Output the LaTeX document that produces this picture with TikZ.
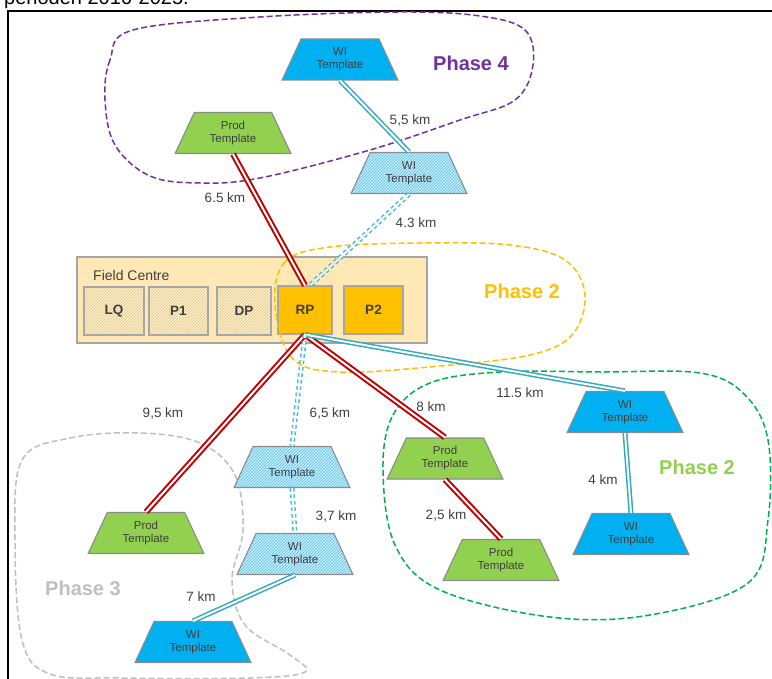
\documentclass[tikz,border=0pt]{standalone}
\usepackage{fontspec}
\setmainfont{Liberation Sans}
\usetikzlibrary{shapes.geometric,patterns}
\definecolor{txtgray}{HTML}{404040}
\definecolor{tplborder}{HTML}{8C8C8C}
\definecolor{prodgreen}{HTML}{92D050}
\definecolor{wiblue}{HTML}{00B0F0}
\definecolor{wihfill}{HTML}{C8EAF8}
\definecolor{wihline}{HTML}{4FC3EE}
\definecolor{fcfill}{HTML}{FDE8B6}
\definecolor{fcborder}{HTML}{A6A6A6}
\definecolor{bxfill}{HTML}{FDF0D0}
\definecolor{bxline}{HTML}{E2C27A}
\definecolor{rpfill}{HTML}{FFC000}
\definecolor{pipered}{HTML}{C00000}
\definecolor{pipecyan}{HTML}{31A9BE}
\definecolor{dotcyan}{HTML}{4BB8D6}
\definecolor{ph4}{HTML}{7030A0}
\definecolor{ph2y}{HTML}{FFC000}
\definecolor{ph2g}{HTML}{00B050}
\definecolor{ph2gt}{HTML}{92D050}
\definecolor{ph3}{HTML}{BFBFBF}
\tikzset{
  tpl/.style={trapezium, trapezium stretches=true, trapezium left angle=64,
    trapezium right angle=64, minimum width=116pt, minimum height=41pt,
    inner sep=0pt, draw=tplborder, line width=1.1pt, align=center,
    font=\fontsize{11.5}{13}\selectfont, text=txtgray},
  prod/.style={tpl, fill=prodgreen},
  wi/.style={tpl, fill=wiblue},
  wih/.style={tpl, preaction={fill=wihfill}, pattern=north east lines, pattern color=wihline},
  fcbox/.style={draw=fcborder, line width=1.2pt, inner sep=0pt, minimum height=48pt,
    font=\bfseries\fontsize{13.5}{16}\selectfont, text=txtgray},
  hbox/.style={fcbox, preaction={fill=bxfill}, pattern=north east lines, pattern color=bxline},
  obox/.style={fcbox, fill=rpfill},
  redpipe/.style={draw=pipered, line width=2pt, double=white, double distance=2pt},
  cyanpipe/.style={draw=pipecyan, line width=1.5pt, double=white, double distance=2pt},
  dotpipe/.style={draw=dotcyan, line width=1.5pt, double=white, double distance=2pt, dash pattern=on 3.5pt off 3pt},
  lbl/.style={font=\fontsize{13.5}{16}\selectfont, text=txtgray, inner sep=0pt},
  phase/.style={font=\bfseries\fontsize{20}{24}\selectfont, inner sep=0pt},
  bnd/.style={line width=1.5pt, dash pattern=on 6pt off 3pt}
}
\begin{document}
\begin{tikzpicture}[x=1pt,y=-1pt]
\clip (0,0) rectangle (772,679);
\fill[white] (0,0) rectangle (772,679);
% cut-off caption and frame
\node[anchor=base west, inner sep=0pt, font=\fontsize{20}{24}\selectfont] (cap) at (4,5) {perioden 2016-2025.};
\draw[line width=2pt] (8,700) -- (8,11) -- (790,11);
% field centre
\node[draw=fcborder, fill=fcfill, line width=1.4pt, minimum width=350pt, minimum height=86pt, inner sep=0pt] (fc) at (252,300) {};
\node[anchor=west, font=\fontsize{14}{16}\selectfont, text=txtgray, inner sep=0pt] (fclbl) at (93,275) {Field Centre};
\node[hbox, minimum width=60pt] (LQ) at (114,311) {LQ};
\node[hbox, minimum width=59pt] (P1) at (178.5,311) {P1};
\node[hbox, minimum width=54pt] (DP) at (244,311) {DP};
\node[obox, minimum width=54pt] (RP) at (305,310) {RP};
\node[obox, minimum width=59pt] (P2) at (373.5,310) {P2};
% phase boundaries
\draw[bnd, draw=ph4] plot[smooth cycle, tension=0.6] coordinates {(133,30) (110,60) (105,100) (115,145) (150,176) (200,183) (260,178) (370,150) (460,120) (515,100) (533,65) (525,30) (480,16) (400,12) (260,17)};
\draw[bnd, draw=ph2y] plot[smooth cycle, tension=0.6] coordinates {(275,305) (285,262) (330,247) (420,243) (510,245) (565,260) (585,295) (572,335) (530,355) (440,366) (340,372) (292,358)};
\draw[bnd, draw=ph2g] plot[smooth cycle, tension=0.6] coordinates {(383,470) (393,415) (430,383) (500,372) (600,372) (700,373) (745,395) (768,440) (768,520) (748,583) (650,615) (550,617) (440,590) (395,545)};
\draw[bnd, draw=ph3] plot[smooth cycle, tension=0.6] coordinates {(15,540) (22,460) (70,438) (140,433) (200,443) (235,475) (243,530) (232,580) (245,625) (290,655) (305,672) (250,678) (120,678) (50,674) (22,640)};
% phase labels
\node[phase, text=ph4] (p4) at (471,63) {Phase 4};
\node[phase, text=ph2y] (p2y) at (522,291) {Phase 2};
\node[phase, text=ph2gt] (p2g) at (697,467) {Phase 2};
\node[phase, text=ph3] (p3) at (83,588) {Phase 3};
% templates
\node[wi] (wiA) at (340,59.5) {WI\\Template};
\node[prod] (prodA) at (233,133) {Prod\\Template};
\node[wih] (wihA) at (409,173) {WI\\Template};
\node[prod] (prodB) at (146,533) {Prod\\Template};
\node[wih] (wihB) at (292,467) {WI\\Template};
\node[wih] (wihC) at (295,554) {WI\\Template};
\node[wi] (wiB) at (193,642) {WI\\Template};
\node[prod] (prodC) at (445,458.5) {Prod\\Template};
\node[prod] (prodD) at (501,560) {Prod\\Template};
\node[wi] (wiC) at (625,412) {WI\\Template};
\node[wi] (wiD) at (631,534) {WI\\Template};
% connectors
\draw[cyanpipe] (wiA.south) -- (wihA.north);
\draw[redpipe] (prodA.south) -- (RP.north);
\draw[dotpipe] (wihA.south) -- ([xshift=5pt]RP.north);
\draw[redpipe] (RP.south) -- (prodB.north);
\draw[redpipe] (RP.south) -- (prodC.north);
\draw[cyanpipe] (RP.south) -- (wiC.north);
\draw[dotpipe] (RP.south) -- (wihB.north);
\draw[redpipe] (prodC.south) -- (prodD.north);
\draw[cyanpipe] (wiC.south) -- (wiD.north);
\draw[dotpipe] (wihB.south) -- (wihC.north);
\draw[cyanpipe] (wihC.south) -- (wiB.north);
% distance labels
\node[lbl] (d1) at (410,120) {5,5 km};
\node[lbl] (d2) at (225,198) {6.5 km};
\node[lbl] (d3) at (416,223) {4.3 km};
\node[lbl] (d4) at (163,413) {9,5 km};
\node[lbl] (d5) at (330,413) {6,5 km};
\node[lbl] (d6) at (431,407) {8 km};
\node[lbl] (d7) at (520,393) {11.5 km};
\node[lbl] (d8) at (603,480) {4 km};
\node[lbl] (d9) at (446,515) {2,5 km};
\node[lbl] (d10) at (336,516) {3,7 km};
\node[lbl] (d11) at (201,597) {7 km};
\end{tikzpicture}
\end{document}
